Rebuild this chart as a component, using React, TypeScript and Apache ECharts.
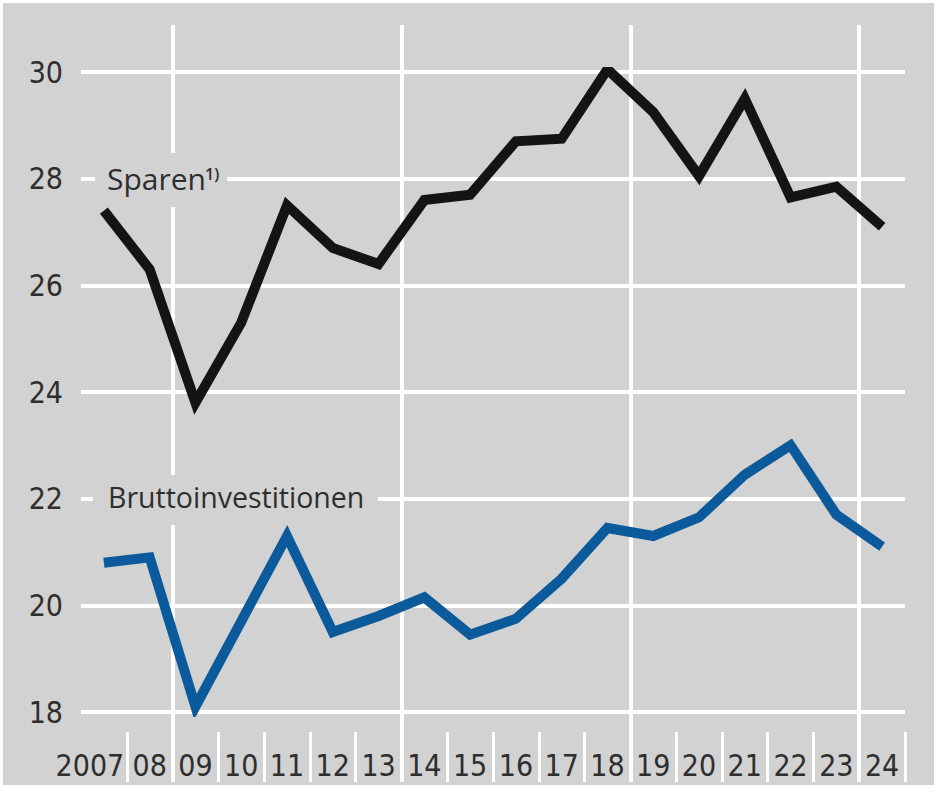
import React, { useEffect, useRef } from 'react';
import * as echarts from 'echarts';

const years = ['2007', '08', '09', '10', '11', '12', '13', '14', '15', '16', '17', '18', '19', '20', '21', '22', '23', '24'];
const sparen = [27.4, 26.3, 23.8, 25.3, 27.5, 26.7, 26.4, 27.6, 27.7, 28.7, 28.75, 30.05, 29.25, 28.05, 29.5, 27.65, 27.85, 27.1];
const bruttoinvestitionen = [20.8, 20.9, 18.1, 19.7, 21.3, 19.5, 19.8, 20.15, 19.45, 19.75, 20.5, 21.45, 21.3, 21.65, 22.45, 23.0, 21.7, 21.1];
const yMin = 18;
const yMax = 30;
const yStep = 2;
// category boundaries (for ticks between the year labels)
const boundaries = years.map((_, i) => String(i)).concat(String(years.length));

export default function App() {
  const ref = useRef<HTMLDivElement>(null);
  useEffect(() => {
    const chart = echarts.init(ref.current!, null, { renderer: 'svg' });
    const numFont = "'Liberation Sans Narrow', 'DejaVu Sans Condensed', 'Roboto Condensed', 'Liberation Sans', sans-serif";
    const txtFont = "'Open Sans', 'Noto Sans', sans-serif";
    const textColor = '#2e2e2e';
    const bg = '#d2d2d2';
    chart.setOption({
      animation: false,
      backgroundColor: bg,
      grid: [
        { left: 78, right: 29, top: 69, bottom: 73 },
        { left: 78, right: 29, top: 22, bottom: 3 },
      ],
      xAxis: [
        {
          gridIndex: 0,
          type: 'category',
          data: years,
          boundaryGap: true,
          axisLine: { show: false },
          axisTick: { show: false },
          splitLine: { show: false },
          axisLabel: {
            interval: 0,
            margin: 38,
            fontSize: 30,
            fontFamily: numFont,
            color: textColor,
            formatter: (v: string, i: number) => (i === 0 ? `{f|${v}}` : v),
            rich: {
              f: { fontSize: 30, fontFamily: numFont, color: textColor, padding: [0, 28, 0, 0] },
            },
          },
        },
        {
          gridIndex: 1,
          type: 'category',
          data: boundaries,
          boundaryGap: false,
          axisLine: { show: false },
          axisLabel: { show: false },
          axisTick: {
            show: true,
            inside: true,
            length: 50,
            interval: (i: number) => i !== 0,
            lineStyle: { color: '#ffffff', width: 3 },
          },
          splitLine: {
            show: true,
            interval: (i: number) => (i - 2) % 5 === 0,
            lineStyle: { color: '#ffffff', width: 4 },
          },
        },
      ],
      yAxis: [
        {
          gridIndex: 0,
          type: 'value',
          min: yMin,
          max: yMax,
          interval: yStep,
          axisLine: { show: false },
          axisTick: { show: false },
          axisLabel: { margin: 18, fontSize: 30, fontFamily: numFont, color: textColor },
          splitLine: { show: true, lineStyle: { color: '#ffffff', width: 4 } },
        },
        { gridIndex: 1, type: 'value', show: false, splitLine: { show: false } },
      ],
      graphic: [
        { type: 'rect', z: 5, shape: { x: 92, y: 150, width: 132, height: 54 }, style: { fill: bg } },
        {
          type: 'text', z: 6, x: 104, y: 175.5,
          style: { text: 'Sparen', font: `30px ${txtFont}`, fill: textColor, verticalAlign: 'middle', align: 'left' },
        },
        {
          type: 'text', z: 6, x: 202, y: 171,
          style: { text: '1)', font: `600 16px ${txtFont}`, fill: textColor, verticalAlign: 'middle', align: 'left' },
        },
        { type: 'rect', z: 5, shape: { x: 90, y: 472, width: 285, height: 50 }, style: { fill: bg } },
        {
          type: 'text', z: 6, x: 105, y: 494,
          style: { text: 'Bruttoinvestitionen', font: `28.5px ${txtFont}`, fill: textColor, verticalAlign: 'middle', align: 'left' },
        },
      ],
      series: [
        {
          name: 'Sparen',
          type: 'line',
          xAxisIndex: 0,
          yAxisIndex: 0,
          data: sparen,
          symbol: 'none',
          z: 10,
          lineStyle: { color: '#141414', width: 10, join: 'miter', cap: 'butt' },
        },
        {
          name: 'Bruttoinvestitionen',
          type: 'line',
          xAxisIndex: 0,
          yAxisIndex: 0,
          data: bruttoinvestitionen,
          symbol: 'none',
          z: 10,
          lineStyle: { color: '#0b5a9c', width: 10, join: 'miter', cap: 'butt' },
        },
      ],
    });
    return () => chart.dispose();
  }, []);
  return (
    <div style={{ position: 'fixed', left: 0, top: 0, width: 937, height: 794, background: '#ffffff' }}>
      <div ref={ref} style={{ position: 'absolute', left: 3, top: 3, width: 931, height: 782 }} />
    </div>
  );
}
